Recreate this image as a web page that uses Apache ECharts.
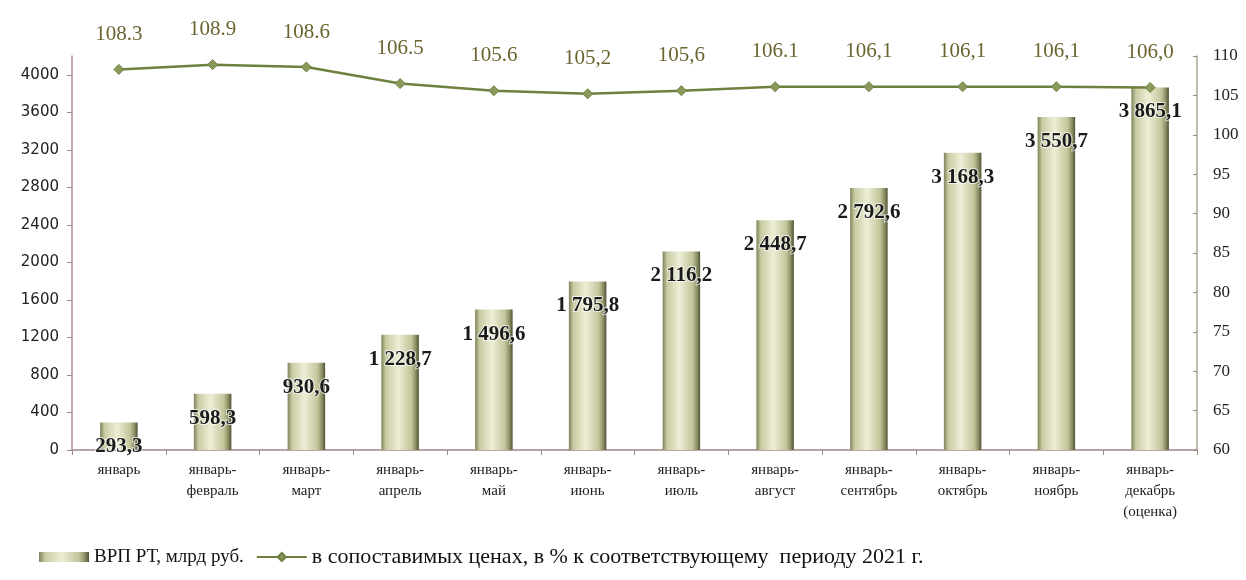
<!DOCTYPE html>
<html><head><meta charset="utf-8">
<script src="https://cdn.jsdelivr.net/npm/echarts@6/dist/echarts.min.js"></script>
<style>html,body{margin:0;padding:0;background:#fff}#c{width:1246px;height:580px}</style>
</head><body><div id="c"></div>
<script>
const categories = ['январь','январь-\nфевраль','январь-\nмарт','январь-\nапрель','январь-\nмай','январь-\nиюнь','январь-\nиюль','январь-\nавгуст','январь-\nсентябрь','январь-\nоктябрь','январь-\nноябрь','январь-\nдекабрь\n(оценка)'];
const grpValues = [293.3, 598.3, 930.6, 1228.7, 1496.6, 1795.8, 2116.2, 2448.7, 2792.6, 3168.3, 3550.7, 3865.1];
const grpLabels = ['293,3','598,3','930,6','1 228,7','1 496,6','1 795,8','2 116,2','2 448,7','2 792,6','3 168,3','3 550,7','3 865,1'];
const indexValues = [108.3, 108.9, 108.6, 106.5, 105.6, 105.2, 105.6, 106.1, 106.1, 106.1, 106.1, 106.0];
const indexLabels = ['108.3','108.9','108.6','106.5','105.6','105,2','105,6','106.1','106,1','106,1','106,1','106,0'];
const seriesNames = ['ВРП РТ, млрд руб.', 'в сопоставимых ценах, в % к соответствующему  периоду 2021 г.'];

const serif = '"Liberation Serif", "DejaVu Serif", serif';
const barGrad = new echarts.graphic.LinearGradient(0,0,1,0,[
  {offset:0,color:'#7f8258'},{offset:0.12,color:'#c9cba3'},{offset:0.45,color:'#eeeed6'},
  {offset:0.8,color:'#c2c49a'},{offset:0.92,color:'#8a8c62'},{offset:1,color:'#4f5135'}]);
const chart = echarts.init(document.getElementById('c'));
chart.setOption({
  animation:false,
  grid:{left:72,right:49,top:56,bottom:130},
  legend:{
    left:34,bottom:7,itemGap:12,itemWidth:50,itemHeight:10,
    textStyle:{fontFamily:serif,fontSize:19,color:'#111'},
    data:[{name:seriesNames[0],icon:'rect'},
          {name:seriesNames[1],textStyle:{fontSize:22,fontFamily:serif,color:'#111'}}]
  },
  xAxis:{
    type:'category',data:categories,boundaryGap:true,
    axisLine:{lineStyle:{color:'#a08888',width:1.5}},
    axisTick:{show:true,length:5,lineStyle:{color:'#a08888'}},
    axisLabel:{fontFamily:serif,fontSize:15,color:'#222',lineHeight:21,margin:10,interval:0}
  },
  yAxis:[
    {type:'value',min:0,max:4200,interval:400,
     axisLine:{show:true,lineStyle:{color:'#b09090',width:1.5}},
     axisTick:{show:true,length:5,lineStyle:{color:'#a08888'}},
     splitLine:{show:false},
     axisLabel:{showMaxLabel:false,formatter:v=>String(v),fontFamily:'"DejaVu Sans", sans-serif',fontSize:15,color:'#222',margin:13}},
    {type:'value',min:60,max:110,interval:5,position:'right',
     axisLine:{show:true,lineStyle:{color:'#a8a890',width:1.5}},
     axisTick:{show:true,inside:true,length:4,lineStyle:{color:'#a08888'}},
     splitLine:{show:false},
     axisLabel:{fontFamily:serif,fontSize:17,color:'#222',margin:16}}
  ],
  series:[
    {name:seriesNames[0],type:'bar',yAxisIndex:0,data:grpValues,barWidth:'40%',
     itemStyle:{color:barGrad},
     label:{show:true,position:'insideTop',distance:14,
       formatter:p=>grpLabels[p.dataIndex],
       fontFamily:serif,fontSize:21,fontWeight:'bold',color:'#1a1a1a',
       textBorderColor:'rgba(255,255,255,0.7)',textBorderWidth:2}},
    {name:seriesNames[1],type:'line',yAxisIndex:1,data:indexValues,
     symbol:'diamond',symbolSize:10,
     lineStyle:{color:'#6e8040',width:2.5},
     itemStyle:{color:'#8a9a5a',borderColor:'#6e8040',borderWidth:1},
     label:{show:true,position:'top',distance:19,
       formatter:p=>indexLabels[p.dataIndex],
       fontFamily:serif,fontSize:21,color:'#6b6430'}}
  ]
});
</script></body></html>
